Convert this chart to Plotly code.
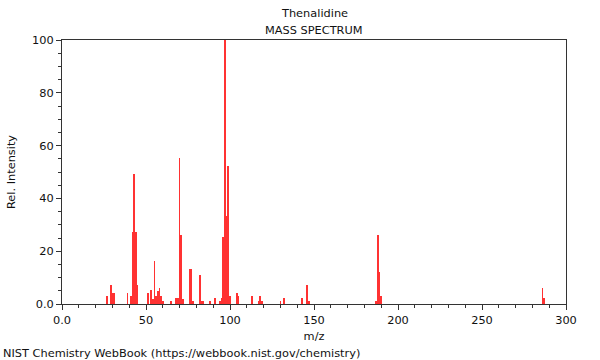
import plotly.graph_objects as go

mz = [27, 29, 30, 31, 39, 41, 42, 43, 44, 45, 51, 53, 54, 55, 56, 57, 58, 59, 60,
      65, 68, 69, 70, 71, 72, 76, 77, 78, 82, 83, 84, 88, 91, 94, 95, 96, 97, 98,
      99, 100, 104, 105, 113, 117, 118, 119, 130, 132, 143, 146, 147, 187, 188,
      189, 190, 286, 287]
intensity = [3.2, 7.1, 4.0, 4.0, 4.0, 3.1, 27.3, 49.2, 27.2, 7.1, 4.0, 5.2, 2.0, 16.3,
             3.1, 5.0, 6.2, 3.1, 1.1, 1.1, 2.1, 2.1, 55.3, 26.1, 2.0, 13.2, 13.2, 1.1,
             11.1, 1.1, 1.1, 1.1, 2.1, 1.1, 2.1, 25.2, 100.0, 33.3, 52.4, 3.1, 4.3,
             3.2, 3.2, 1.2, 3.2, 1.2, 1.2, 2.2, 2.2, 7.2, 1.2, 1.0, 26.1, 12.2, 3.0,
             6.2, 2.1]

x_tickvals = [0, 50, 100, 150, 200, 250, 300]
x_ticktext = ["0.0", "50", "100", "150", "200", "250", "300"]
y_tickvals = [0, 20, 40, 60, 80, 100]
y_ticktext = ["0.0", "20", "40", "60", "80", "100"]

title_name = "Thenalidine"
title_sub = "MASS SPECTRUM"
footer = "NIST Chemistry WebBook (https://webbook.nist.gov/chemistry)"

font = "DejaVu Sans"
FS = 11.35
L, R, T, B = 62, 34, 40, 56
W, H = 600, 360
pw = W - L - R
ph = H - T - B


def px_x(px):
    return (px - L) / pw


def px_y(py):
    return (H - B - py) / ph


fig = go.Figure()
fig.add_trace(go.Bar(x=mz, y=intensity, width=0.45,
                     marker=dict(color="rgb(255,50,50)", line=dict(width=0)),
                     hoverinfo="x+y"))

axis_common = dict(showgrid=False, zeroline=False, showline=True, linecolor="#333",
                   linewidth=1, mirror=True, ticks="outside", ticklen=5, tickwidth=1,
                   tickcolor="#333", tickfont=dict(family=font, size=FS, color="#111"),
                   automargin=False)

fig.update_layout(
    width=W, height=H,
    margin=dict(l=L, r=R, t=T, b=B, autoexpand=False),
    paper_bgcolor="white", plot_bgcolor="white",
    showlegend=False, bargap=0,
    font=dict(family=font, size=FS, color="#111"),
    xaxis=dict(range=[0, 300], tickvals=x_tickvals, ticktext=x_ticktext,
               minor=dict(dtick=10, ticks="outside", ticklen=3, tickcolor="#333"),
               title=dict(text="m/z", font=dict(family=font, size=FS), standoff=6),
               **axis_common),
    yaxis=dict(range=[0, 100], tickvals=y_tickvals, ticktext=y_ticktext,
               minor=dict(dtick=5, ticks="outside", ticklen=3, tickcolor="#333"),
               title=dict(text="Rel. Intensity", font=dict(family=font, size=FS), standoff=14),
               **axis_common),
    annotations=[
        dict(text=title_name, x=0.5, y=px_y(13), xref="paper", yref="paper", showarrow=False,
             font=dict(family=font, size=FS, color="#111"), yanchor="middle"),
        dict(text=title_sub, x=0.5, y=px_y(30), xref="paper", yref="paper", showarrow=False,
             font=dict(family=font, size=FS, color="#111"), yanchor="middle"),
        dict(text=footer, x=px_x(1), y=px_y(353), xref="paper", yref="paper", showarrow=False,
             font=dict(family=font, size=FS, color="#111"), xanchor="left", yanchor="middle"),
    ],
)

fig.write_html("out.html", config={"displayModeBar": False},
               post_script="document.body.style.margin='0';")
